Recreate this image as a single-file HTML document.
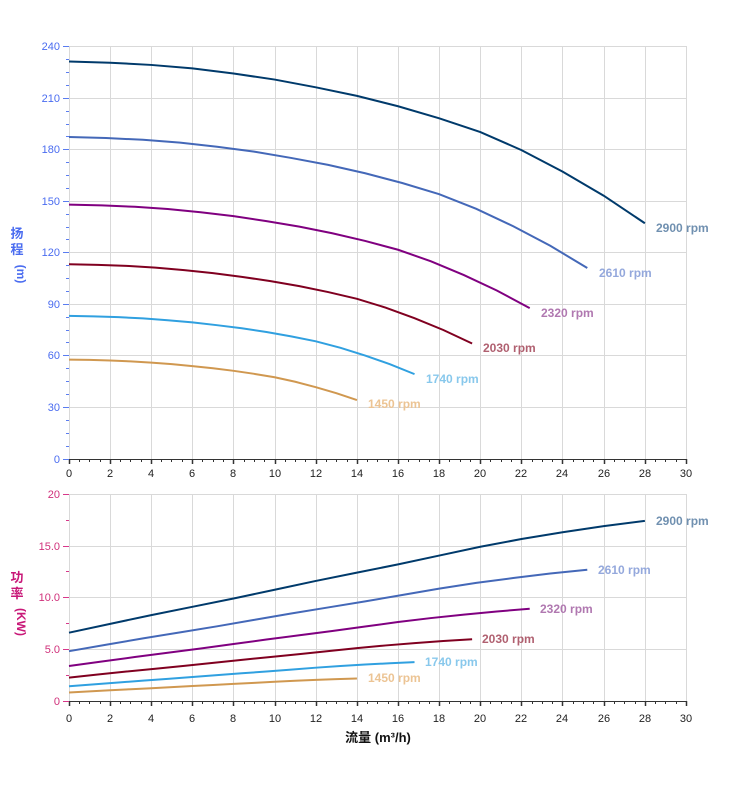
<!DOCTYPE html>
<html><head><meta charset="utf-8"><style>
body{margin:0;background:#fff}
svg{display:block;font-family:"Liberation Sans","Noto Sans CJK SC",sans-serif}
</style></head><body>
<svg width="752" height="797" viewBox="0 0 752 797" xmlns="http://www.w3.org/2000/svg">
<defs>
<polyline id="h" points="0,231 2,230.3 4,229 6,227 8,224 10,220.5 12,216 14,211 16,205 18,198 20,190 22,179.5 24,167 26,153 28,137" fill="none"/>
<polyline id="p" points="0,6.6 2,7.45 4,8.3 6,9.1 8,9.9 10,10.75 12,11.6 14,12.4 16,13.2 18,14.05 20,14.9 22,15.65 24,16.3 26,16.9 28,17.4" fill="none"/>
</defs>
<g stroke="#d9d9d9" stroke-width="1">
<path d="M69.5 46V459M110.5 46V459M151.5 46V459M192.5 46V459M233.5 46V459M275.5 46V459M316.5 46V459M357.5 46V459M398.5 46V459M439.5 46V459M480.5 46V459M521.5 46V459M562.5 46V459M604.5 46V459M645.5 46V459M686.5 46V459"/>
<path d="M69 46.5H686M69 98.5H686M69 149.5H686M69 201.5H686M69 252.5H686M69 304.5H686M69 355.5H686M69 407.5H686"/>
<path d="M69.5 494V701M110.5 494V701M151.5 494V701M192.5 494V701M233.5 494V701M275.5 494V701M316.5 494V701M357.5 494V701M398.5 494V701M439.5 494V701M480.5 494V701M521.5 494V701M562.5 494V701M604.5 494V701M645.5 494V701M686.5 494V701"/>
<path d="M69 494.5H686M69 546.5H686M69 597.5H686M69 649.5H686"/>
</g>
<!-- axes -->
<g stroke="#333" stroke-width="1">
<path d="M69 459.5H686M69 701.5H686"/>
</g>
<g id="xt1" stroke="#333">
<path d="M69.5 459v5M110.5 459v5M151.5 459v5M192.5 459v5M233.5 459v5M275.5 459v5M316.5 459v5M357.5 459v5M398.5 459v5M439.5 459v5M480.5 459v5M521.5 459v5M562.5 459v5M604.5 459v5M645.5 459v5M686.5 459v5" stroke-width="1.5"/>
<path d="M79.5 459v3M89.5 459v3M100.5 459v3M120.5 459v3M130.5 459v3M141.5 459v3M161.5 459v3M171.5 459v3M182.5 459v3M202.5 459v3M213.5 459v3M223.5 459v3M244.5 459v3M254.5 459v3M264.5 459v3M285.5 459v3M295.5 459v3M305.5 459v3M326.5 459v3M336.5 459v3M347.5 459v3M367.5 459v3M377.5 459v3M388.5 459v3M408.5 459v3M419.5 459v3M429.5 459v3M449.5 459v3M460.5 459v3M470.5 459v3M490.5 459v3M501.5 459v3M511.5 459v3M532.5 459v3M542.5 459v3M552.5 459v3M573.5 459v3M583.5 459v3M593.5 459v3M614.5 459v3M624.5 459v3M635.5 459v3M655.5 459v3M665.5 459v3M676.5 459v3"/>
</g>
<use href="#xt1" transform="translate(0,242)"/>
<g font-size="11" fill="#222" text-anchor="middle">
<text x="69" y="477">0</text><text x="110" y="477">2</text><text x="151" y="477">4</text><text x="192" y="477">6</text><text x="233" y="477">8</text><text x="275" y="477">10</text><text x="316" y="477">12</text><text x="357" y="477">14</text><text x="398" y="477">16</text><text x="439" y="477">18</text><text x="480" y="477">20</text><text x="521" y="477">22</text><text x="562" y="477">24</text><text x="604" y="477">26</text><text x="645" y="477">28</text><text x="686" y="477">30</text>
<text x="69" y="722">0</text><text x="110" y="722">2</text><text x="151" y="722">4</text><text x="192" y="722">6</text><text x="233" y="722">8</text><text x="275" y="722">10</text><text x="316" y="722">12</text><text x="357" y="722">14</text><text x="398" y="722">16</text><text x="439" y="722">18</text><text x="480" y="722">20</text><text x="521" y="722">22</text><text x="562" y="722">24</text><text x="604" y="722">26</text><text x="645" y="722">28</text><text x="686" y="722">30</text>
</g>
<!-- y ticks top -->
<g stroke="#5a7cf0">
<path d="M63 46.5h6M63 98.5h6M63 149.5h6M63 201.5h6M63 252.5h6M63 304.5h6M63 355.5h6M63 407.5h6M63 459.5h6"/>
<path d="M66 59.5h3M66 72.5h3M66 85.5h3M66 111.5h3M66 124.5h3M66 136.5h3M66 162.5h3M66 175.5h3M66 188.5h3M66 214.5h3M66 227.5h3M66 239.5h3M66 265.5h3M66 278.5h3M66 291.5h3M66 317.5h3M66 330.5h3M66 342.5h3M66 368.5h3M66 381.5h3M66 394.5h3M66 420.5h3M66 433.5h3M66 446.5h3"/>
</g>
<g font-size="11" fill="#4a6cf0" text-anchor="end">
<text x="60" y="50">240</text><text x="60" y="102">210</text><text x="60" y="153">180</text><text x="60" y="205">150</text><text x="60" y="256">120</text><text x="60" y="308">90</text><text x="60" y="359">60</text><text x="60" y="411">30</text><text x="60" y="463">0</text>
</g>
<g stroke="#d8388a">
<path d="M63 494.5h6M63 546.5h6M63 597.5h6M63 649.5h6M63 701.5h6"/>
<path d="M66 520.5h3M66 571.5h3M66 623.5h3M66 675.5h3"/>
</g>
<g font-size="11" fill="#d0307a" text-anchor="end">
<text x="60" y="498">20</text><text x="60" y="550">15.0</text><text x="60" y="601">10.0</text><text x="60" y="653">5.0</text><text x="60" y="705">0</text>
</g>
<!-- axis titles -->
<g font-size="13" font-weight="bold" fill="#4a6cf0" text-anchor="middle">
<text x="17" y="238">扬</text><text x="17" y="254">程</text>
<text x="17" y="274" transform="rotate(90 17 274)" font-size="12">(m)</text>
</g>
<g font-size="13" font-weight="bold" fill="#c81878" text-anchor="middle">
<text x="17" y="582">功</text><text x="17" y="598">率</text>
<text x="17" y="622" transform="rotate(90 17 622)" font-size="12">(KW)</text>
</g>
<text x="378" y="742" font-size="13" font-weight="bold" fill="#111" text-anchor="middle">流量 (m³/h)</text>
<!-- head curves -->
<g transform="translate(69,459) scale(20.567,-1.7208)" stroke-width="2" fill="none">
<use href="#h" stroke="#003a6b" vector-effect="non-scaling-stroke"/>
<g transform="scale(0.9,0.81)"><use href="#h" stroke="#4468b8"/></g>
<g transform="scale(0.8,0.64)"><use href="#h" stroke="#800080"/></g>
<g transform="scale(0.7,0.49)"><use href="#h" stroke="#800020"/></g>
<g transform="scale(0.6,0.36)"><use href="#h" stroke="#30a0e0"/></g>
<g transform="scale(0.5,0.25)"><use href="#h" stroke="#d09850"/></g>
</g>
<g transform="translate(69,701) scale(20.567,-10.35)" fill="none">
<use href="#p" stroke="#003a6b"/>
<g transform="scale(0.9,0.729)"><use href="#p" stroke="#4468b8"/></g>
<g transform="scale(0.8,0.512)"><use href="#p" stroke="#800080"/></g>
<g transform="scale(0.7,0.343)"><use href="#p" stroke="#800020"/></g>
<g transform="scale(0.6,0.216)"><use href="#p" stroke="#30a0e0"/></g>
<g transform="scale(0.5,0.125)"><use href="#p" stroke="#d09850"/></g>
</g>
<style>#h,#p{vector-effect:non-scaling-stroke;stroke-width:2px}</style>
<!-- labels -->
<g font-size="12" font-weight="bold">
<text x="656" y="232" fill="#7090b0">2900 rpm</text>
<text x="599" y="277" fill="#94a8dc">2610 rpm</text>
<text x="541" y="317" fill="#b078b0">2320 rpm</text>
<text x="483" y="352" fill="#b06070">2030 rpm</text>
<text x="426" y="383" fill="#88c8ec">1740 rpm</text>
<text x="368" y="408" fill="#ecc494">1450 rpm</text>
<text x="656" y="525" fill="#7090b0">2900 rpm</text>
<text x="598" y="574" fill="#94a8dc">2610 rpm</text>
<text x="540" y="613" fill="#b078b0">2320 rpm</text>
<text x="482" y="643" fill="#b06070">2030 rpm</text>
<text x="425" y="666" fill="#88c8ec">1740 rpm</text>
<text x="368" y="682" fill="#ecc494">1450 rpm</text>
</g>
</svg>
</body></html>
